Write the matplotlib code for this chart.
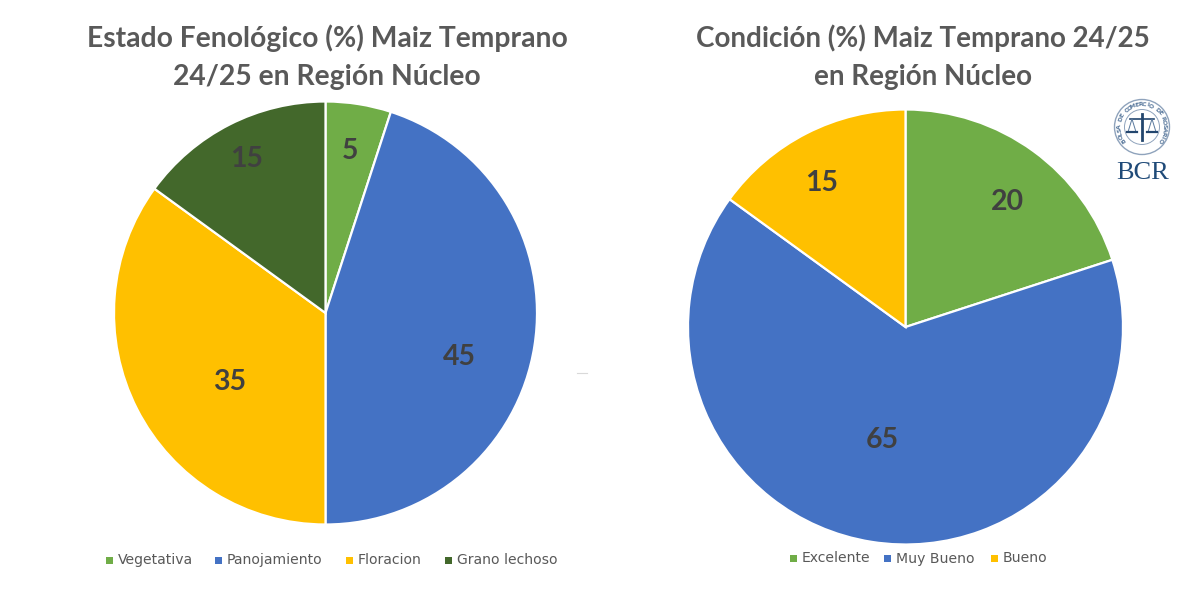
import numpy as np
import matplotlib
matplotlib.use("Agg")
import matplotlib.pyplot as plt
from matplotlib.lines import Line2D
from matplotlib.patches import Circle

W, H = 1200, 606

# Phenological stage
stage_labels = ["Vegetativa", "Panojamiento", "Floracion", "Grano lechoso"]
stage_values = [5, 45, 35, 15]
stage_colors = ["#70AD47", "#4472C4", "#FFC000", "#43682B"]
stage_title = ["Estado Fenológico (%) Maiz Temprano", "24/25 en Región Núcleo"]

# Crop condition
cond_labels = ["Excelente", "Muy Bueno", "Bueno"]
cond_values = [20, 65, 15]
cond_colors = ["#70AD47", "#4472C4", "#FFC000"]
cond_title = ["Condición (%) Maiz Temprano 24/25", "en Región Núcleo"]

TITLE_FONT = "Lato"
TEXT_GREY = "#595959"
VALUE_GREY = "#404040"

fig = plt.figure(figsize=(W / 100, H / 100), dpi=100, facecolor="white")
# Transparent pixel-space layer kept above the pies for labels and annotations
canvas = fig.add_axes([0, 0, 1, 1], zorder=10)
canvas.set_xlim(0, W)
canvas.set_ylim(H, 0)
canvas.axis("off")
canvas.patch.set_alpha(0)


def draw_pie(values, colors, cx, cy, r, label_xy):
    """Pie centred on a pixel position, clockwise from twelve o'clock."""
    ax = fig.add_axes([(cx - r) / W, 1 - (cy + r) / H, 2 * r / W, 2 * r / H], zorder=1)
    ax.pie(values, colors=colors, startangle=90, counterclock=False, radius=1,
           wedgeprops=dict(edgecolor="white", linewidth=1.6, clip_on=False))
    ax.set_xlim(-1, 1)
    ax.set_ylim(-1, 1)
    ax.set_aspect("equal")
    ax.axis("off")
    for v, (x, y) in zip(values, label_xy):
        canvas.text(x, y, str(v), ha="center", va="center", fontsize=20.5,
                    fontweight="bold", family=TITLE_FONT, color=VALUE_GREY)


def draw_title(lines, x, size):
    for line, y in zip(lines, (38.5, 76.5)):
        canvas.text(x, y, line, ha="center", va="center", fontsize=size,
                    fontweight="bold", family=TITLE_FONT, color=TEXT_GREY)


def draw_legend(labels, colors, marker_x, y):
    for lab, col, x in zip(labels, colors, marker_x):
        canvas.add_patch(plt.Rectangle((x - 3.5, y - 3.5), 7, 7, color=col, lw=0))
        canvas.text(x + 9, y, lab, ha="left", va="center", fontsize=10.05,
                    family="DejaVu Sans", color=TEXT_GREY)


draw_pie(stage_values, stage_colors, 325.5, 313, 211.5,
         [(350, 151), (459, 357), (230, 382), (247, 159)])
draw_pie(cond_values, cond_colors, 905.5, 327, 217.5,
         [(1007, 202), (882, 440), (822, 183)])

draw_title(stage_title, 327, 20.3)
draw_title(cond_title, 923, 20.0)

draw_legend(stage_labels, stage_colors, [109, 218, 349, 448], 560)
draw_legend(cond_labels, cond_colors, [793, 887, 994], 558.5)

# Institutional seal: double ring, lettering round the rim, scales in the middle
seal_x, seal_y = 1142, 127
seal_col = "#5B7A9E"
canvas.add_patch(Circle((seal_x, seal_y), 27.5, fill=False, ec="#8FA3BC", lw=1.0))
canvas.add_patch(Circle((seal_x, seal_y), 17.5, fill=False, ec="#8FA3BC", lw=0.7))
rim_text = "BOLSA DE COMERCIO DE ROSARIO"
for ch, a in zip(rim_text, np.linspace(-125, 125, len(rim_text))):
    t = np.deg2rad(a)
    canvas.text(seal_x + 22.5 * np.sin(t), seal_y - 22.5 * np.cos(t), ch,
                ha="center", va="center", rotation=-a, rotation_mode="anchor",
                fontsize=4.4, fontweight="bold", family="DejaVu Sans", color=seal_col)
canvas.plot([seal_x, seal_x], [seal_y - 13, seal_y + 13], color="#23466E", lw=2.0)
canvas.plot([seal_x - 12, seal_x + 12], [seal_y - 8, seal_y - 8], color="#23466E", lw=1.2)
for dx in (-10, 10):
    canvas.plot([seal_x + dx - 4, seal_x + dx, seal_x + dx + 4],
                [seal_y + 5, seal_y - 8, seal_y + 5], color="#5B7A9E", lw=0.7)
    canvas.plot([seal_x + dx - 5, seal_x + dx + 5], [seal_y + 5, seal_y + 5],
                color="#23466E", lw=1.6)
canvas.text(seal_x + 1, 173, "BCR", ha="center", va="center", fontsize=19,
            family="Liberation Serif", color="#1F4A78")

# Faint stray tick between the two pies
canvas.add_line(Line2D([577, 587], [373, 373], color="#D9D9D9", lw=0.8))

fig.savefig("out.png", dpi=100, facecolor="white")
